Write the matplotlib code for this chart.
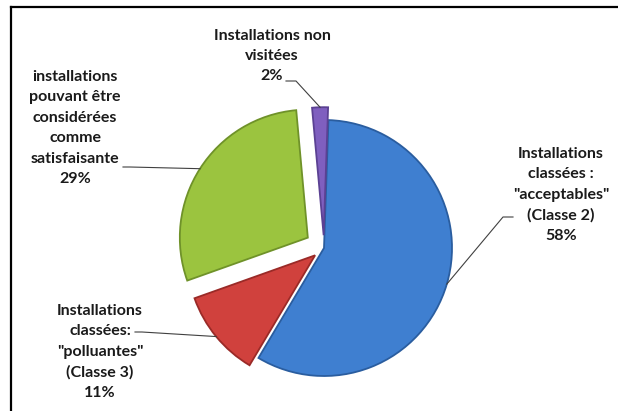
import numpy as np
import matplotlib.pyplot as plt
from matplotlib.lines import Line2D

# data
labels = ['Installations\nclassées :\n"acceptables"\n(Classe 2)\n58%',
          'Installations\nclassées:\n"polluantes"\n(Classe 3)\n11%',
          'installations\npouvant être\nconsidérées\ncomme\nsatisfaisante\n29%',
          'Installations non\nvisitées\n2%']
values = [58, 11, 29, 2]
colors = ['#3f7fd0', '#d0413d', '#9bc43f', '#7f5fbf']
edges = ['#2a5d9f', '#9a2a27', '#6f9229', '#5b4193']
explode = [0.0, 0.09, 0.15, 0.1]

# label layout (image pixels: centre of text block, leader start, elbow)
W, H = 618, 411
cx, cy, R = 324, 248, 128
text_pos = [(561, 195), (100, 352), (75, 128), (272, 56)]
lead_start = [(513, 217), (135, 332), (123, 167), (286, 81)]
lead_elbow = [(503, 217), (142, 332), (130, 167), (296, 81)]

def to_data(p):
    return ((p[0] - cx) / R, (cy - p[1]) / R)

fig = plt.figure(figsize=(W / 100, H / 100), dpi=100)
ax = fig.add_axes([0, 0, 1, 1])
wedges, _ = ax.pie(values, colors=colors, explode=explode, startangle=88,
                   counterclock=False, radius=1,
                   wedgeprops=dict(linewidth=1.3))
for w, e in zip(wedges, edges):
    w.set_edgecolor(e)

ax.set_xlim(-cx / R, (W - cx) / R)
ax.set_ylim(-(H - cy) / R, cy / R)
ax.set_aspect('equal')
ax.axis('off')

for i, w in enumerate(wedges):
    mid = np.deg2rad((w.theta1 + w.theta2) / 2)
    ax_x = w.center[0] + w.r * np.cos(mid)
    ax_y = w.center[1] + w.r * np.sin(mid)
    s = to_data(lead_start[i])
    e = to_data(lead_elbow[i])
    ax.plot([s[0], e[0], ax_x], [s[1], e[1], ax_y], color='#404040', lw=0.8)
    t = to_data(text_pos[i])
    ax.text(t[0], t[1], labels[i], ha='center', va='center', multialignment='center',
            fontsize=11.5, fontweight='bold', family='Lato', linespacing=1.58,
            color='#1a1a1a')

# frame
fig.add_artist(Line2D([11 / W, 1], [1 - 7 / H, 1 - 7 / H], color='black', lw=1.6))
fig.add_artist(Line2D([11 / W, 11 / W], [0, 1 - 7 / H], color='black', lw=1.6))

fig.savefig('out.png', dpi=100, facecolor='white')
